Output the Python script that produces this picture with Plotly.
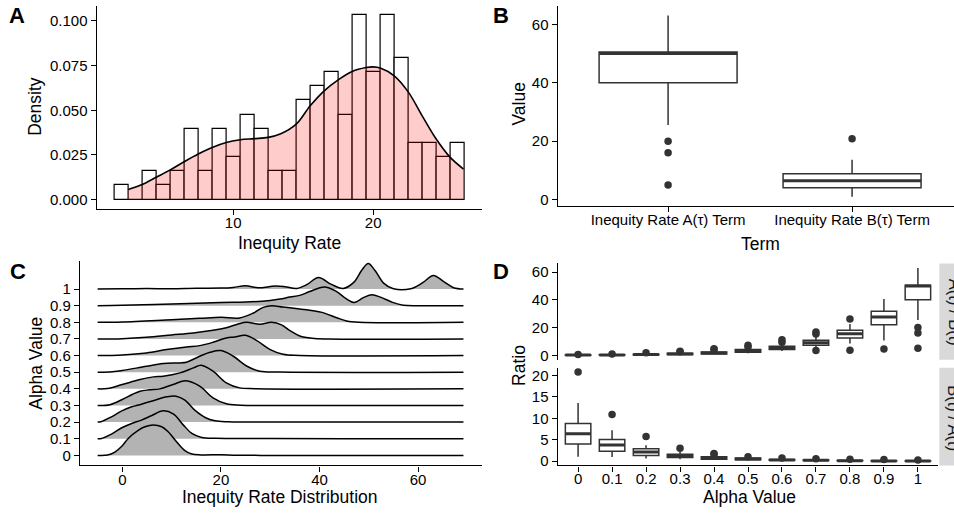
import plotly.graph_objects as go

W, H = 954, 513
YC = 517.0 / 513.0   # vertical compensation measured from earlier renders
FONT = "Liberation Sans, Arial, Helvetica, sans-serif"

# ---------------- Panel A : histogram + density ----------------
hist_centers = list(range(2, 27))
hist_counts = [1, 0, 2, 1, 2, 5, 2, 5, 3, 6, 5, 2, 2, 7, 8, 9, 6, 13, 9, 13, 10, 4, 4, 3, 4]
dens_x = [2.5, 3.5, 4.5, 5.5, 6.5, 7.5, 8.5, 9.5, 10.5, 11.5, 12.5, 13.4, 14.5, 15.5,
          16.5, 17.5, 18.5, 19.5, 20.0, 20.5, 21.5, 22.5, 23.5, 24.5, 25.5, 26.45]
dens_y = [0.0056, 0.0084, 0.0125, 0.0166, 0.0212, 0.0255, 0.0292, 0.0320, 0.0335, 0.0341,
          0.0348, 0.0368, 0.0422, 0.0525, 0.0609, 0.0670, 0.0717, 0.0739, 0.0743, 0.0736,
          0.0693, 0.0603, 0.0469, 0.0339, 0.0236, 0.0171]

# ---------------- Panel B : boxplots of terms ----------------
terms = ["Inequity Rate A(τ) Term", "Inequity Rate B(τ) Term"]
b_q1 = [40.0, 4.0]
b_med = [50.0, 6.4]
b_q3 = [50.5, 8.8]
b_lo = [25.5, 1.0]
b_hi = [63.0, 13.6]
b_out = [[20.0, 16.0, 5.0], [20.8]]

# ---------------- Panel C : ridgelines ----------------
alpha_labels = ["0", "0.1", "0.2", "0.3", "0.4", "0.5", "0.6", "0.7", "0.8", "0.9", "1"]
ridge_x = [
    [-5, -3, -1.5, 0, 1.2, 3.3, 4.6, 6.3, 8, 9.3, 11, 12.7, 14.1, 16, 20, 23, 28, 40, 55, 69.2],
    [-5, -4.2, -2.2, -0.1, 1.9, 3.9, 6.0, 8.3, 10.4, 12.4, 14.1, 16.1, 19, 23, 30, 45, 69.2],
    [-5, -4.2, -2.2, -0.1, 1.9, 3.9, 6.6, 9, 10.9, 12.7, 14.7, 16.8, 18.8, 21.5, 30, 69.2],
    [-5, -2.5, 0, 2, 3.6, 5.5, 7.6, 10.3, 12.9, 15.7, 18.4, 21.1, 24, 30, 69.2],
    [-5, -3, 0, 3.6, 6.3, 8.3, 11.7, 14.4, 16, 18.4, 21.1, 23.8, 27, 69.2],
    [-5, -2, 0, 4.9, 8.3, 11.7, 13, 15.7, 17.8, 20, 22.5, 25.3, 27.9, 32, 69.2],
    [-5, 0, 4.9, 9, 13, 15.7, 18.4, 21.1, 22.8, 25, 27.2, 30, 32.6, 36, 69.2],
    [-5, 0, 4.9, 10, 14.4, 18.4, 21.1, 23.5, 25.2, 27.9, 30.3, 32.3, 34, 36, 38.5, 42, 69.2],
    [-5, 0, 10, 15.7, 20, 23.8, 26.6, 28.6, 30.3, 32.6, 36, 38.7, 40.5, 43.5, 45.5, 48, 69.2],
    [-5, 0, 10, 20, 25, 30, 32, 34, 36, 38, 41, 43.4, 45.4, 47, 49, 50.6, 52.5, 54.8, 57, 60, 69.2],
    [-5, 0, 5, 10, 15, 20, 22.5, 25, 27.5, 31, 33, 35.4, 37.5, 39.8, 42.3, 44.8, 47, 48.6, 49.9,
     51.3, 53, 55, 58.5, 61, 63.1, 65.2, 67.2, 69.2],
]
ridge_h = [
    [0, 0.02, 0.2, 0.58, 1.02, 1.52, 1.72, 1.82, 1.72, 1.42, 0.82, 0.28, 0.08, 0.03, 0.04, 0.01, 0, 0, 0, 0],
    [0, 0.02, 0.28, 0.66, 0.92, 1.12, 1.4, 1.68, 1.48, 0.82, 0.32, 0.08, 0.03, 0.02, 0.01, 0, 0],
    [0, 0.04, 0.32, 0.68, 0.92, 1.08, 1.32, 1.52, 1.56, 1.32, 0.72, 0.28, 0.08, 0.02, 0, 0],
    [0, 0.05, 0.36, 0.66, 0.86, 0.94, 1.0, 1.26, 1.48, 1.16, 0.46, 0.1, 0.02, 0, 0],
    [0, 0.02, 0.26, 0.56, 0.72, 0.76, 0.96, 1.26, 1.42, 1.06, 0.36, 0.06, 0.01, 0],
    [0, 0.03, 0.1, 0.36, 0.52, 0.56, 0.6, 0.96, 1.2, 1.3, 0.96, 0.36, 0.06, 0.01, 0],
    [0, 0.04, 0.16, 0.36, 0.52, 0.6, 0.8, 1.06, 1.12, 1.22, 0.92, 0.36, 0.08, 0.01, 0],
    [0, 0.02, 0.1, 0.24, 0.36, 0.52, 0.68, 0.9, 1.0, 0.88, 1.0, 0.85, 0.5, 0.18, 0.04, 0, 0],
    [0, 0.02, 0.16, 0.24, 0.3, 0.26, 0.56, 0.9, 1.0, 0.92, 0.8, 0.7, 0.6, 0.28, 0.08, 0, 0],
    [0, 0.02, 0.1, 0.2, 0.22, 0.32, 0.4, 0.52, 0.62, 0.85, 1.13, 0.86, 0.42, 0.2, 0.5, 0.66, 0.5, 0.2, 0.03, 0, 0],
    [0, 0.02, 0.03, 0.02, 0.05, 0.06, 0.1, 0.2, 0.08, 0.18, 0.14, 0.04, 0.28, 0.7, 0.3, 0.04, 0.42,
     1.15, 1.54, 1.1, 0.36, 0.02, 0.02, 0.4, 0.82, 0.45, 0.08, 0],
]

# ---------------- Panel D : ratio boxplots per alpha ----------------
ab_q1 = [0.11, 0.18, 0.3, 0.5, 1.0, 2.2, 4.1, 7.2, 12.5, 22.1, 40.0]
ab_med = [0.15, 0.27, 0.5, 1.0, 1.7, 3.1, 5.3, 9.1, 15.6, 27.6, 50.0]
ab_q3 = [0.22, 0.4, 0.8, 1.5, 2.4, 4.1, 6.5, 10.8, 18.0, 31.7, 50.5]
ab_lo = [0.05, 0.05, 0.1, 0.2, 0.5, 1.4, 3.1, 6.0, 8.5, 10.6, 25.5]
ab_hi = [0.35, 0.7, 1.3, 2.4, 3.4, 5.3, 8.4, 13.7, 22.5, 40.6, 63.0]
ab_out = [[0.6], [1.0], [1.8], [2.6, 3.0], [4.1, 4.8], [6.0, 7.2], [9.4, 11.3],
          [15.4, 16.8, 3.4], [26.2, 3.6], [4.6], [20.0, 16.0, 5.0]]

ba_q1 = [4.0, 2.33, 1.3, 0.85, 0.45, 0.3, 0.2, 0.12, 0.06, 0.03, 0.025]
ba_med = [6.4, 3.74, 2.1, 1.3, 0.75, 0.47, 0.28, 0.17, 0.08, 0.04, 0.03]
ba_q3 = [8.8, 5.06, 2.9, 1.6, 1.0, 0.7, 0.4, 0.25, 0.12, 0.06, 0.045]
ba_lo = [1.0, 0.93, 0.6, 0.45, 0.25, 0.15, 0.1, 0.06, 0.04, 0.02, 0.016]
ba_hi = [13.6, 7.2, 3.7, 2.1, 1.3, 0.95, 0.6, 0.35, 0.2, 0.09, 0.05]
ba_out = [[20.8], [10.9], [5.76], [3.0], [1.6, 1.8], [1.0], [0.7], [0.55], [0.45], [0.35], [0.25]]

strip_labels = ["A(t) / B(t)", "B(t) / A(t)"]

# ---------------- helpers (layout only) ----------------
def dx(x0, x1):
    return [x0 / W, min(x1 / W, 1.0)]

def dy(top, bottom):
    return [max(0.0, 1 - bottom * YC / H), 1 - top * YC / H]

def py(y):
    return 1 - y * YC / H

BOX_LINE = "#333333"

fig = go.Figure()

# ---- Panel A ----
total = sum(hist_counts)
hist_density = [c / total for c in hist_counts]
fig.add_trace(go.Bar(x=hist_centers, y=hist_density, width=1.0,
                     marker=dict(color="white", line=dict(color="black", width=1.2)),
                     xaxis="x", yaxis="y", showlegend=False, hoverinfo="skip"))
fig.add_trace(go.Scatter(x=dens_x, y=dens_y, mode="lines", fill="tozeroy",
                         fillcolor="rgba(255,0,0,0.2)",
                         line=dict(color="black", width=1.6, shape="spline"),
                         xaxis="x", yaxis="y", showlegend=False, hoverinfo="skip"))

# ---- box helper ----
def add_boxes(xa, ya, q1, med, q3, lo, hi, outs):
    pos = list(range(len(q1)))
    fig.add_trace(go.Box(x=pos, q1=q1, median=med, q3=q3, lowerfence=lo, upperfence=hi,
                         width=0.75, whiskerwidth=0, fillcolor="white",
                         line=dict(color=BOX_LINE, width=1.5), boxpoints=False,
                         xaxis=xa, yaxis=ya, showlegend=False, hoverinfo="skip"))
    mx, my = [], []
    for i, m in enumerate(med):
        mx += [i - 0.375, i + 0.375, None]
        my += [m, m, None]
    fig.add_trace(go.Scatter(x=mx, y=my, mode="lines", line=dict(color=BOX_LINE, width=3),
                             xaxis=xa, yaxis=ya, showlegend=False, hoverinfo="skip"))
    ox, oy = [], []
    for i, vals in enumerate(outs):
        for v in vals:
            ox.append(i)
            oy.append(v)
    fig.add_trace(go.Scatter(x=ox, y=oy, mode="markers",
                             marker=dict(color=BOX_LINE, size=7.5),
                             xaxis=xa, yaxis=ya, showlegend=False, hoverinfo="skip"))

# ---- Panel B ----
add_boxes("x2", "y2", b_q1, b_med, b_q3, b_lo, b_hi, b_out)

# ---- Panel C ----
for k in range(len(ridge_x) - 1, -1, -1):
    xs = ridge_x[k]
    fig.add_trace(go.Scatter(x=xs, y=[k] * len(xs), mode="lines",
                             line=dict(width=0, color="rgba(0,0,0,0)"),
                             xaxis="x3", yaxis="y3", showlegend=False, hoverinfo="skip"))
    fig.add_trace(go.Scatter(x=xs, y=[k + h for h in ridge_h[k]], mode="lines",
                             fill="tonexty", fillcolor="#B3B3B3",
                             line=dict(color="black", width=1.5, shape="spline", smoothing=1.0),
                             xaxis="x3", yaxis="y3", showlegend=False, hoverinfo="skip"))

# ---- Panel D ----
add_boxes("x4", "y4", ab_q1, ab_med, ab_q3, ab_lo, ab_hi, ab_out)
add_boxes("x5", "y5", ba_q1, ba_med, ba_q3, ba_lo, ba_hi, ba_out)

# ---------------- axes ----------------
axis_common = dict(showline=True, linecolor="black", linewidth=1.3, ticks="outside",
                   ticklen=5, tickwidth=1.3, tickcolor="black", showgrid=False,
                   zeroline=False, tickfont=dict(family=FONT, size=15, color="black"),
                   fixedrange=True)
xstand = dict(ticklabelstandoff=-5)

layout_axes = dict(
    xaxis=dict(axis_common, **xstand, domain=dx(96.7, 481.7), range=[0.25, 27.75],
               tickvals=[10, 20], anchor="y"),
    yaxis=dict(axis_common, domain=dy(4.96, 208.2), range=[-0.00516, 0.1084],
               tickvals=[0, 0.025, 0.05, 0.075, 0.1], tickformat=".3f", anchor="x"),
    xaxis2=dict(axis_common, **xstand, domain=dx(557.7, 954), range=[-0.6, 1.554],
                tickvals=[0, 1], ticktext=terms, anchor="y2"),
    yaxis2=dict(axis_common, domain=dy(5.2, 205.1), range=[-2.1, 66.2],
                tickvals=[0, 20, 40, 60], anchor="x2"),
    xaxis3=dict(axis_common, **xstand, domain=dx(80, 481.7), range=[-8.58, 72.9],
                tickvals=[0, 20, 40, 60], anchor="y3"),
    yaxis3=dict(axis_common, domain=dy(261, 465.3), range=[-0.6, 11.66],
                tickvals=list(range(11)), ticktext=alpha_labels, anchor="x3"),
    xaxis4=dict(axis_common, domain=dx(557.7, 938.3), range=[-0.6, 10.6],
                showline=False, ticks="", showticklabels=False, anchor="y4"),
    yaxis4=dict(axis_common, domain=dy(263, 359.4), range=[-3.15, 66.2],
                tickvals=[0, 20, 40, 60], anchor="x4"),
    xaxis5=dict(axis_common, ticklabelstandoff=-6, domain=dx(557.7, 938.3), range=[-0.6, 10.6],
                tickvals=list(range(11)), ticktext=alpha_labels, anchor="y5"),
    yaxis5=dict(axis_common, domain=dy(367.4, 465.4), range=[-1.02, 21.84],
                tickvals=[0, 5, 10, 15, 20], anchor="x5"),
)

# ---------------- annotations ----------------
def ann(text, x, y, size=17.5, angle=0, bold=False, color="black"):
    return dict(text=("<b>%s</b>" % text) if bold else text, x=x / W, y=py(y),
                xref="paper", yref="paper", showarrow=False, xanchor="center",
                yanchor="middle", textangle=angle,
                font=dict(family=FONT, size=size, color=color))

annotations = [
    ann("Inequity Rate", 289, 242.5),
    ann("Density", 35, 106, angle=-90),
    ann("Term", 760, 243),
    ann("Value", 519.5, 103.3, angle=-90),
    ann("Inequity Rate Distribution", 280, 497.5),
    ann("Alpha Value", 36, 363.5, angle=-90),
    ann("Alpha Value", 749.2, 497.5),
    ann("Ratio", 519.5, 365.2, angle=-90),
    ann("A", 17, 15, size=22, bold=True),
    ann("B", 500.5, 15, size=22, bold=True),
    ann("C", 17.5, 271, size=22, bold=True),
    ann("D", 500.5, 271, size=22, bold=True),
    ann(strip_labels[0], 954.5, 312, size=16.5, angle=90, color="#1A1A1A"),
    ann(strip_labels[1], 954.5, 417.5, size=16.5, angle=90, color="#1A1A1A"),
]

shapes = [
    dict(type="rect", xref="paper", yref="paper", x0=939.3 / W, x1=975 / W,
         y0=py(359.4), y1=py(263), fillcolor="#D9D9D9", line=dict(width=0),
         layer="below"),
    dict(type="rect", xref="paper", yref="paper", x0=939.3 / W, x1=975 / W,
         y0=py(465.4), y1=py(367.4), fillcolor="#D9D9D9", line=dict(width=0),
         layer="below"),
]

fig.update_layout(
    width=W, height=H, margin=dict(l=0, r=0, t=0, b=0),
    paper_bgcolor="white", plot_bgcolor="rgba(0,0,0,0)",
    font=dict(family=FONT, color="black"),
    bargap=0, showlegend=False, annotations=annotations, shapes=shapes,
    **layout_axes,
)

fig.write_html("out.html",
               config={"displayModeBar": False, "responsive": False},
               post_script="document.body.style.margin='0px';document.body.style.overflow='hidden';")
